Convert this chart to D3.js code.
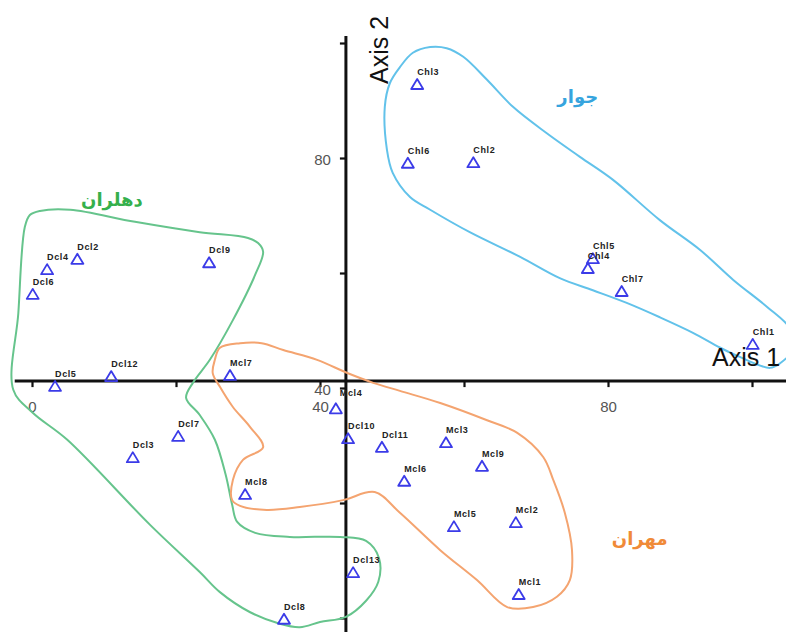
<!DOCTYPE html>
<html>
<head>
<meta charset="utf-8">
<script src="https://cdn.jsdelivr.net/npm/d3@7"></script>
<style>
  html, body { margin: 0; padding: 0; background: #fff; }
  svg { display: block; }
</style>
</head>
<body>
<svg id="chart" width="786" height="632"></svg>
<script>
// ---- Data -------------------------------------------------------------
// Ordination scores (Axis 1, Axis 2) for each accession
const dehloranNames = ["Dcl4","Dcl2","Dcl6","Dcl9","Dcl5","Dcl12","Dcl7","Dcl3","Dcl10","Dcl11","Dcl13","Dcl8"];
const dehloranAxis1 = [2.1, 6.3, 0.1, 24.6, 3.2, 11.0, 20.3, 14.0, 43.9, 48.6, 44.6, 35.0];
const dehloranAxis2 = [60.5, 62.3, 56.2, 61.7, 40.2, 41.9, 31.5, 27.8, 31.1, 29.6, 7.8, -0.3];

const mehranNames = ["Mcl7","Mcl4","Mcl8","Mcl3","Mcl9","Mcl6","Mcl5","Mcl2","Mcl1"];
const mehranAxis1 = [27.5, 42.2, 29.6, 57.5, 62.5, 51.7, 58.6, 67.2, 67.6];
const mehranAxis2 = [42.1, 36.3, 21.4, 30.4, 26.3, 23.7, 15.8, 16.5, 4.0];

const jovarNames = ["Chl3","Chl6","Chl2","Chl5","Chl4","Chl7","Chl1"];
const jovarAxis1 = [53.5, 52.2, 61.3, 77.9, 77.2, 81.9, 100.1];
const jovarAxis2 = [92.7, 79.0, 79.1, 62.4, 60.7, 56.7, 47.5];

// Hand-drawn group outlines, in axis units [Axis 1, Axis 2]
const dehloranOutline = [
  [1.1,70.8],[5.3,71.0],[14.3,68.9],[23.3,67.1],[30.0,66.1],[31.4,65.2],[32.1,63.7],
  [31.0,59.7],[27.9,51.8],[24.7,44.9],[22.4,41.0],[21.4,38.3],[23.3,35.3],[25.4,31.0],
  [26.9,24.9],[27.8,19.7],[28.5,16.7],[31.0,14.8],[35.8,14.1],[42.8,14.1],[46.4,13.4],
  [48.2,10.4],[48.1,6.3],[46.4,3.0],[43.6,0.2],[40.0,-0.7],[37.2,-1.6],[34.4,-1.0],
  [30.3,1.0],[26.1,4.5],[23.3,8.0],[16.4,16.2],[4.9,31.0],[0.1,35.7],[-2.6,39.7],
  [-1.9,53.0],[-1.0,68.0],[-0.3,70.1]
];
const mehranOutline = [
  [26.1,47.0],[28.9,47.8],[31.9,47.8],[34.9,46.6],[39.6,44.9],[43.8,42.6],[47.4,40.9],
  [51.1,39.5],[56.7,37.4],[63.2,34.4],[67.4,32.2],[71.0,28.0],[72.4,24.0],[74.0,18.3],
  [75.0,11.8],[74.7,6.6],[72.9,3.7],[69.6,1.9],[66.0,1.9],[61.8,6.6],[56.7,11.8],
  [51.1,18.3],[47.6,21.9],[43.2,20.5],[37.2,19.3],[32.6,18.8],[28.9,19.5],[27.8,20.5],
  [27.9,24.0],[29.3,27.5],[32.1,29.7],[30.3,33.2],[27.9,36.7],[26.1,40.2],[25.1,42.6],
  [25.4,44.9]
];
const jovarOutline = [
  [49.7,93.0],[51.1,95.8],[52.9,98.3],[55.3,99.3],[57.6,99.1],[59.9,97.6],[63.2,93.6],
  [66.8,88.9],[71.5,84.3],[76.1,80.2],[80.7,76.2],[87.2,69.2],[92.8,64.0],[97.4,58.8],
  [102.1,54.1],[105.3,50.4],[106.1,47.5],[103.9,44.3],[102.5,43.5],[98.3,45.4],[95.6,47.0],
  [91.8,49.6],[87.2,52.3],[82.6,54.8],[77.9,57.0],[73.3,59.1],[67.8,62.8],[60.8,67.1],
  [55.3,71.0],[52.5,73.2],[50.1,77.4],[49.3,81.4],[49.0,88.9]
];

// Group names and where they sit, in axis units
const groupNames = ["دهلران", "مهران", "جوار"];
const groupLabelPos = [[11.1, 72.6], [84.4, 13.5], [75.8, 90.5]];

const tickValues = [0, 20, 40, 60, 80, 100];
const xTickLabels = [0, 40, 80];
const yTickLabels = [40, 80];
const axisCross = [43.6, 41.2];   // where the two axes meet

// ---- Layout -----------------------------------------------------------
const svg = d3.select("#chart");
const W = 786, H = 632;
const x = d3.scaleLinear().domain([0, 100]).range([32, 752]);
const y = d3.scaleLinear().domain([0, 100]).range([618, 43]);

const groups = [
  { names: dehloranNames, a1: dehloranAxis1, a2: dehloranAxis2, outline: dehloranOutline,
    line: "#66c48c", text: "#35b04c" },
  { names: mehranNames, a1: mehranAxis1, a2: mehranAxis2, outline: mehranOutline,
    line: "#f4a470", text: "#f08a38" },
  { names: jovarNames, a1: jovarAxis1, a2: jovarAxis2, outline: jovarOutline,
    line: "#62c2ea", text: "#36a4de" }
];

svg.append("rect").attr("width", W).attr("height", H).attr("fill", "#fff");

// ---- Axes -------------------------------------------------------------
const axisG = svg.append("g");
const x0 = x(axisCross[0]), y0 = y(axisCross[1]);

const xAxis = axisG.append("g")
  .attr("transform", `translate(0,${y0})`)
  .call(d3.axisBottom(x).tickValues(tickValues).tickSize(6).tickPadding(14)
    .tickFormat(d => xTickLabels.includes(d) ? d : ""));
const yAxis = axisG.append("g")
  .attr("transform", `translate(${x0},0)`)
  .call(d3.axisLeft(y).tickValues(tickValues).tickSize(6).tickPadding(9)
    .tickFormat(d => yTickLabels.includes(d) ? d : ""));

[xAxis, yAxis].forEach(g => {
  g.select(".domain").remove();
  g.selectAll(".tick line").attr("stroke", "#111").attr("stroke-width", 2.2);
  g.selectAll(".tick text")
    .attr("fill", "#555")
    .style("font-family", "Liberation Sans, Arial, sans-serif")
    .style("font-size", "15px");
});
yAxis.selectAll(".tick text").attr("dy", "0.4em");

axisG.append("line")
  .attr("x1", x(-2.4)).attr("x2", W).attr("y1", y0).attr("y2", y0)
  .attr("stroke", "#111").attr("stroke-width", 3);
axisG.append("line")
  .attr("x1", x0).attr("x2", x0).attr("y1", y(101.2)).attr("y2", H)
  .attr("stroke", "#111").attr("stroke-width", 3);

// ---- Group outlines ---------------------------------------------------
const outline = d3.line()
  .x(d => x(d[0])).y(d => y(d[1]))
  .curve(d3.curveCatmullRomClosed.alpha(0.5));

groups.forEach(g => {
  svg.append("path")
    .attr("d", outline(g.outline))
    .attr("fill", "none")
    .attr("stroke", g.line)
    .attr("stroke-width", 2)
    .attr("stroke-linejoin", "round");
});

// ---- Points -----------------------------------------------------------
const tri = (cx, cy) => `M${cx},${cy - 6}L${cx + 6},${cy + 4}L${cx - 6},${cy + 4}Z`;

groups.forEach(g => {
  const pts = g.names.map((n, i) => ({ name: n, a1: g.a1[i], a2: g.a2[i] }));
  const pg = svg.append("g");
  pg.selectAll("path").data(pts).join("path")
    .attr("d", d => tri(x(d.a1), y(d.a2)))
    .attr("fill", "none")
    .attr("stroke", "#3b3be8")
    .attr("stroke-width", 1.8)
    .attr("stroke-linejoin", "round");
  pg.selectAll("text").data(pts).join("text")
    .attr("x", d => x(d.a1) + (d.name === "Mcl4" ? 4 : 0))
    .attr("y", d => y(d.a2) - (d.name === "Mcl4" ? 13 : 10))
    .attr("fill", "#222")
    .style("font-family", "Liberation Sans, Arial, sans-serif")
    .style("font-size", "9px")
    .style("font-weight", "bold")
    .style("letter-spacing", "0.6px")
    .text(d => d.name);
});

// ---- Axis titles ------------------------------------------------------
svg.append("text")
  .attr("transform", `translate(388,${50}) rotate(-90)`)
  .attr("text-anchor", "middle")
  .attr("fill", "#111")
  .style("font-family", "Liberation Sans, Arial, sans-serif")
  .style("font-size", "25px")
  .text("Axis 2");
svg.append("text")
  .attr("x", 712).attr("y", 366)
  .attr("fill", "#111")
  .style("font-family", "Liberation Sans, Arial, sans-serif")
  .style("font-size", "25px")
  .text("Axis 1");

// ---- Group names ------------------------------------------------------
groups.forEach((g, i) => {
  svg.append("text")
    .attr("x", x(groupLabelPos[i][0])).attr("y", y(groupLabelPos[i][1]))
    .attr("text-anchor", "middle")
    .attr("dominant-baseline", "middle")
    .attr("fill", g.text)
    .style("font-family", "DejaVu Sans, sans-serif")
    .style("font-size", "18px")
    .style("font-weight", "bold")
    .text(groupNames[i]);
});
</script>
</body>
</html>
